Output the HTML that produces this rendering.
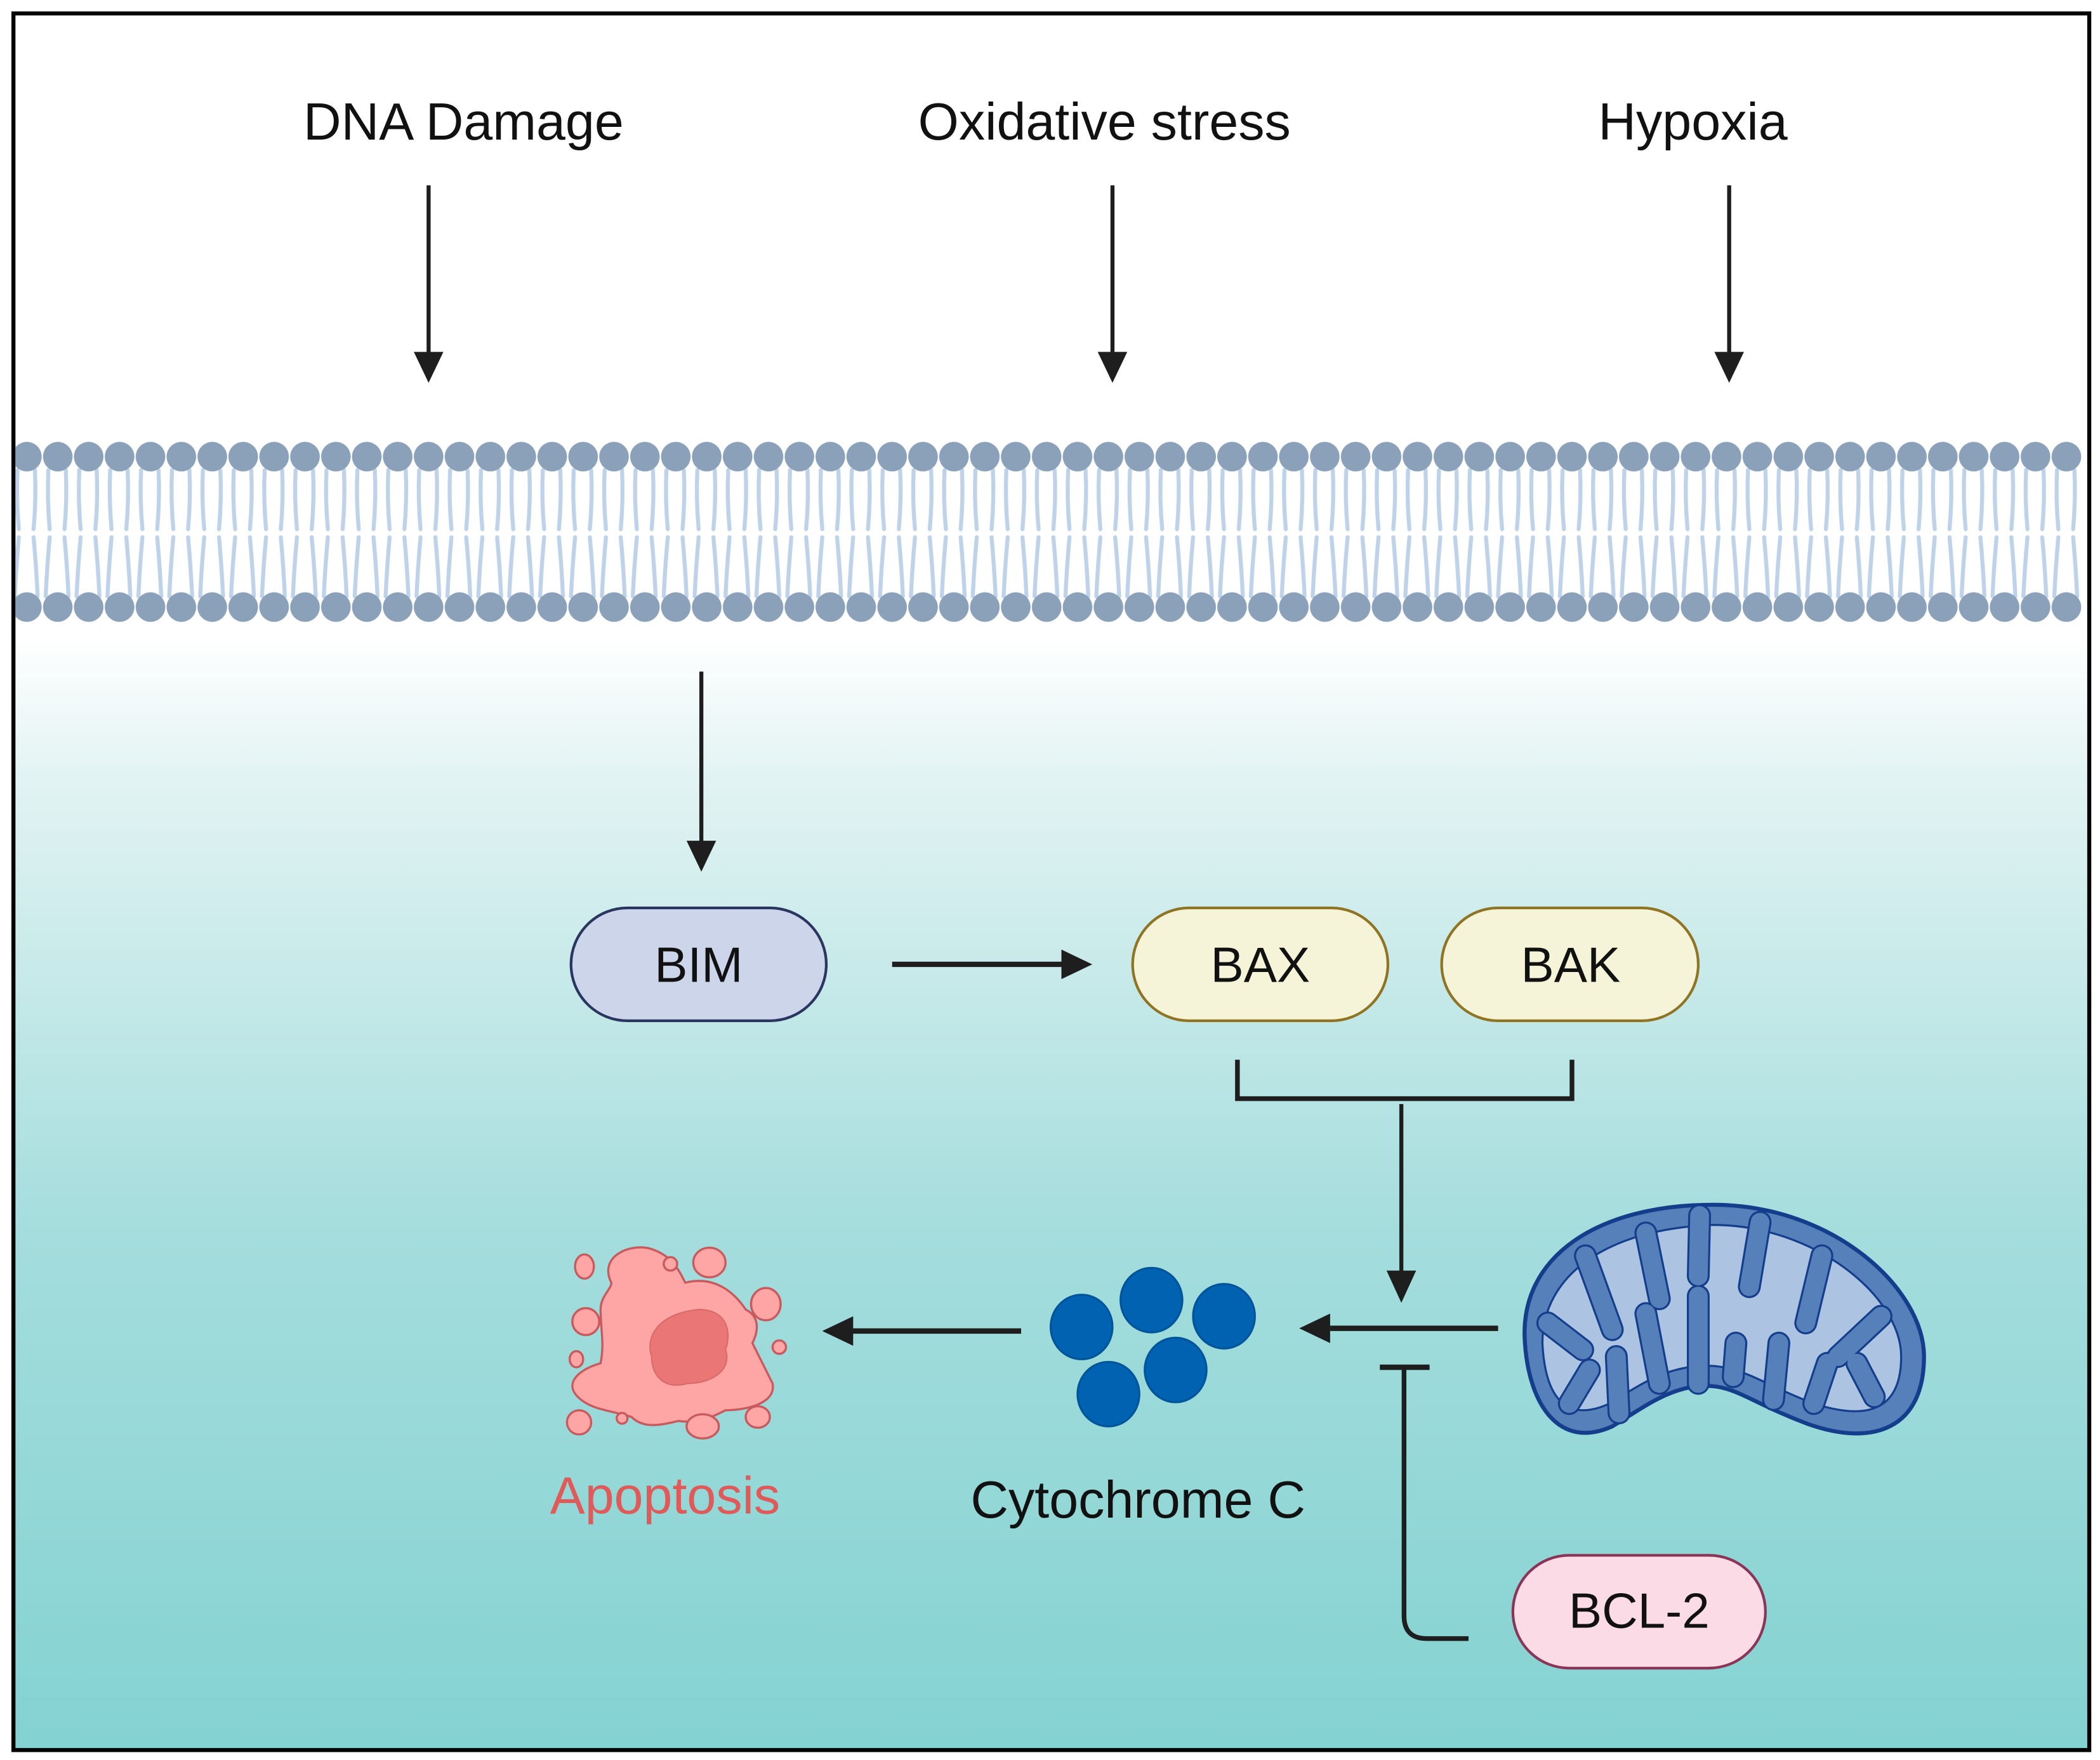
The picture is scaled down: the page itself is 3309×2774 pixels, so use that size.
<!DOCTYPE html>
<html><head><meta charset="utf-8"><style>html,body{margin:0;padding:0;background:#fff}svg{display:block}</style></head>
<body>
<svg width="3309" height="2774" viewBox="0 0 1563 1310.4" preserveAspectRatio="none" xmlns="http://www.w3.org/2000/svg" font-family="Liberation Sans, Arial, sans-serif">
<defs>
<linearGradient id="bg" x1="0" y1="0" x2="0" y2="1">
<stop offset="0" stop-color="#ffffff"/>
<stop offset="0.36" stop-color="#ffffff"/>
<stop offset="0.44" stop-color="#e2f3f3"/>
<stop offset="0.7" stop-color="#a5dddd"/>
<stop offset="1" stop-color="#84d2d2"/>
</linearGradient>
<pattern id="tails" x="20" y="0" width="23" height="1310" patternUnits="userSpaceOnUse">
<path d="M6,350 Q7,372 5,394 M16,350 Q15,372 17,394 M5,400 Q7,422 8,444 M17,400 Q15,422 14,444" stroke="#bed2ea" stroke-width="3" fill="none" stroke-linecap="round"/>
</pattern>
<pattern id="heads" x="8.5" y="0" width="23" height="1310" patternUnits="userSpaceOnUse">
<circle cx="11.5" cy="340" r="11" fill="#8ba1b9"/>
<circle cx="11.5" cy="452" r="11" fill="#8ba1b9"/>
</pattern>
</defs>
<rect x="0" y="0" width="1563" height="1310.4" fill="#fff"/>
<rect x="10" y="10" width="1545" height="1293" fill="url(#bg)" stroke="#000" stroke-width="3"/>
<rect x="11.5" y="325" width="1538" height="140" fill="url(#tails)"/>
<rect x="11.5" y="325" width="1538" height="140" fill="url(#heads)"/>

<g font-size="39" fill="#111" text-anchor="middle">
<text x="345" y="104">DNA Damage</text>
<text x="822" y="104">Oxidative stress</text>
<text x="1260" y="104">Hypoxia</text>
</g>
<g stroke="#1e1e1e" stroke-width="3" fill="none">
<line x1="319" y1="138" x2="319" y2="264"/>
<line x1="828" y1="138" x2="828" y2="264"/>
<line x1="1287" y1="138" x2="1287" y2="264"/>
<line x1="522" y1="500" x2="522" y2="628"/>
<line x1="664" y1="718" x2="792" y2="718" stroke-width="4"/>
<polyline points="921,789 921,818 1170,818 1170,789" stroke-width="3.5"/>
<line x1="1043" y1="822" x2="1043" y2="948"/>
<line x1="1115" y1="989" x2="990" y2="989" stroke-width="4"/>
<line x1="760" y1="991" x2="634" y2="991" stroke-width="4"/>
<line x1="1027" y1="1018" x2="1064" y2="1018" stroke-width="4"/>
<path d="M1045,1018 V1203 Q1045,1220 1062,1220 H1093" stroke-width="3.5"/>
</g>
<g fill="#1e1e1e">
<path d="M308,262 L330,262 L319,285Z"/>
<path d="M817,262 L839,262 L828,285Z"/>
<path d="M1276,262 L1298,262 L1287,285Z"/>
<path d="M511,626 L533,626 L522,649Z"/>
<path d="M790,707 L790,729 L813,718Z"/>
<path d="M1032,946 L1054,946 L1043,970Z"/>
<path d="M990,978 L990,1000 L967,989Z"/>
<path d="M635,980 L635,1002 L612,991Z"/>
</g>

<rect x="425" y="676" width="190" height="84" rx="42" fill="#ccd5e9" stroke="#2a3560" stroke-width="2"/>
<rect x="843" y="676" width="190" height="84" rx="42" fill="#f6f4d8" stroke="#8f7424" stroke-width="2"/>
<rect x="1073" y="676" width="191" height="84" rx="42" fill="#f6f4d8" stroke="#8f7424" stroke-width="2"/>
<rect x="1126" y="1158" width="188" height="84" rx="42" fill="#fadbe6" stroke="#8a3556" stroke-width="2"/>
<g font-size="37" fill="#111" text-anchor="middle">
<text x="520" y="731">BIM</text>
<text x="938" y="731">BAX</text>
<text x="1169" y="731">BAK</text>
<text x="1220" y="1212">BCL-2</text>
</g>
<g font-size="39" text-anchor="middle">
<text x="847" y="1130" fill="#111">Cytochrome C</text>
<text x="495" y="1127" fill="#e05a5a">Apoptosis</text>
</g>

<g fill="#0062b0" stroke="#00559a" stroke-width="1.5">
<ellipse cx="805" cy="988" rx="23" ry="24"/>
<ellipse cx="857" cy="968" rx="23" ry="24"/>
<ellipse cx="911" cy="980" rx="23" ry="24"/>
<ellipse cx="825" cy="1038" rx="23" ry="24"/>
<ellipse cx="875" cy="1020" rx="23" ry="24"/>
</g>

<g fill="#fea5a6" stroke="#c85a5e" stroke-width="1.6">
<path d="M455,955 C445,935 470,925 485,930 C500,935 505,945 510,955 C530,950 545,960 555,975 C565,980 565,990 560,1000 C565,1010 570,1020 575,1030 C578,1045 555,1050 540,1050 C530,1055 520,1060 505,1058 C495,1060 480,1065 470,1055 C455,1050 440,1050 430,1040 C420,1030 430,1020 447,1015 C450,1000 447,990 447,975 C447,965 455,960 455,955Z"/>
<ellipse cx="435" cy="943" rx="7" ry="9"/>
<ellipse cx="499" cy="941" rx="5" ry="5"/>
<ellipse cx="528" cy="940" rx="12" ry="11"/>
<ellipse cx="570" cy="971" rx="11" ry="12"/>
<ellipse cx="436" cy="984" rx="10" ry="10"/>
<ellipse cx="429" cy="1012" rx="5" ry="6"/>
<ellipse cx="580" cy="1003" rx="5" ry="5"/>
<ellipse cx="431" cy="1059" rx="9" ry="9"/>
<ellipse cx="463" cy="1056" rx="4" ry="4"/>
<ellipse cx="523" cy="1062" rx="12" ry="9"/>
<ellipse cx="564" cy="1055" rx="9" ry="8"/>
</g>
<path d="M520,975 C540,975 545,990 540,1005 C545,1020 530,1030 512,1030 C495,1035 485,1025 485,1010 C480,995 490,978 520,975Z" fill="#ea7676" stroke="#d96a6c" stroke-width="1"/>

<path d="M1135,1000 C1130,935 1190,897 1275,897 C1365,897 1432,960 1432,1010 C1432,1063 1395,1078 1345,1060 C1300,1043 1290,1030 1265,1032 C1240,1034 1220,1050 1200,1062 C1160,1080 1138,1045 1135,1000Z" fill="#5680b9" stroke="#143d8b" stroke-width="3"/>
<path d="M1148,1000 C1148,950 1195,915 1275,912 C1350,912 1415,965 1415,1010 C1415,1050 1390,1058 1350,1045 C1310,1030 1295,1015 1265,1017 C1235,1019 1215,1035 1198,1045 C1165,1060 1150,1040 1148,1000Z" fill="#adc3e2" stroke="#143d8b" stroke-width="1.5"/>
<g stroke-linecap="round" fill="none">
<g stroke="#143d8b" stroke-width="17">
<path d="M1152,985 L1178,1005"/><path d="M1180,935 L1200,990"/><path d="M1225,918 L1235,967"/><path d="M1265,905 L1264,950"/><path d="M1310,910 L1302,958"/><path d="M1356,935 L1344,985"/><path d="M1400,980 L1368,1010"/>
<path d="M1168,1045 L1183,1020"/><path d="M1205,1052 L1203,1010"/><path d="M1235,1030 L1225,978"/><path d="M1264,1030 L1264,965"/><path d="M1290,1025 L1292,1000"/><path d="M1320,1042 L1324,1000"/><path d="M1350,1045 L1360,1015"/><path d="M1395,1040 L1382,1015"/>
</g>
<g stroke="#5680b9" stroke-width="14">
<path d="M1152,985 L1178,1005"/><path d="M1180,935 L1200,990"/><path d="M1225,918 L1235,967"/><path d="M1265,905 L1264,950"/><path d="M1310,910 L1302,958"/><path d="M1356,935 L1344,985"/><path d="M1400,980 L1368,1010"/>
<path d="M1168,1045 L1183,1020"/><path d="M1205,1052 L1203,1010"/><path d="M1235,1030 L1225,978"/><path d="M1264,1030 L1264,965"/><path d="M1290,1025 L1292,1000"/><path d="M1320,1042 L1324,1000"/><path d="M1350,1045 L1360,1015"/><path d="M1395,1040 L1382,1015"/>
</g>
</g>
</svg>
</body></html>
